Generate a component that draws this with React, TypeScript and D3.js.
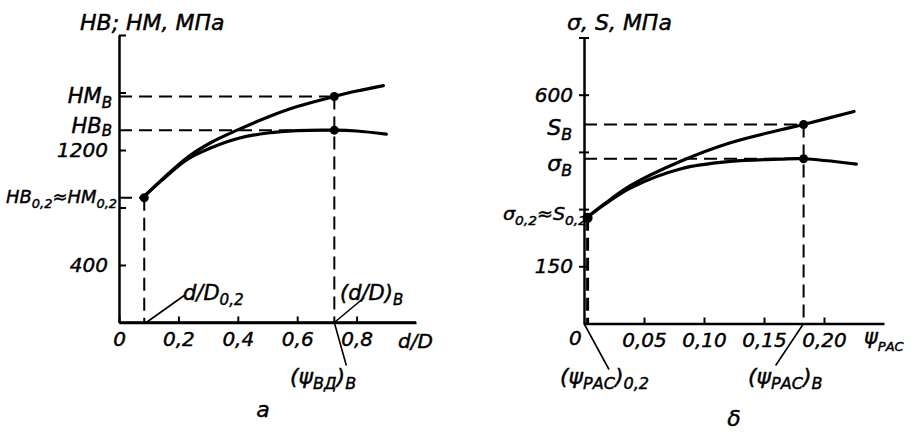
import React, { useEffect, useRef } from 'react';
import * as d3 from 'd3';

// panel a: hardness vs d/D
const hmX = [0.08, 0.14, 0.23, 0.31, 0.4, 0.5, 0.6, 0.725, 0.8, 0.89];
const hmValues = [868, 985, 1148, 1252, 1340, 1428, 1502, 1572, 1610, 1648];
const hbX = [0.08, 0.14, 0.23, 0.31, 0.4, 0.5, 0.6, 0.725, 0.8, 0.9];
const hbValues = [868, 982, 1135, 1215, 1280, 1318, 1335, 1338, 1332, 1310];
const aTicksX = [0, 0.2, 0.4, 0.6, 0.8];
const aTicksY = [400, 800, 1200, 1600, 2000];
const aLabeledY = [400, 1200];
const aX02 = 0.085;
const aV02 = 868;
const aXB = 0.725;
const aHMB = 1572;
const aHBB = 1338;

// panel b: stress vs psi
const sX = [0.002, 0.018, 0.039, 0.081, 0.122, 0.164, 0.183, 0.225];
const sValues = [277, 316, 362, 426, 474, 508, 522, 556];
const sigX = [0.002, 0.018, 0.039, 0.081, 0.122, 0.164, 0.183, 0.227];
const sigValues = [277, 314, 356, 406, 425, 431, 432, 418];
const bTicksX = [0.05, 0.1, 0.15, 0.2];
const bTicksY = [150, 300, 450, 600, 750];
const bLabeledY = [150, 600];
const bX02 = 0.003;
const bV02 = 277;
const bXB = 0.183;
const bSB = 522;
const bSigB = 432;

const FONT = '"DejaVu Sans", sans-serif';
const comma = (v: number, d: number) => (v === 0 ? '0' : v.toFixed(d).replace('.', ','));

const xa = d3.scaleLinear().domain([0, 1]).range([119, 416]);
const ya = d3.scaleLinear().domain([0, 2000]).range([322.5, 35]);
const xb = d3.scaleLinear().domain([0, 0.25]).range([584, 884]);
const yb = d3.scaleLinear().domain([0, 750]).range([323.5, 37.5]);

const Sub = ({ x, y, main, sub, anchor = 'end', size = 21 }: any) => (
  <text x={x} y={y} textAnchor={anchor} fontSize={size} fontStyle="italic" fontFamily={FONT}>
    {main}
    <tspan dy={5} fontSize={size * 0.72}>{sub}</tspan>
  </text>
);

export default function App() {
  const axRef = useRef<SVGGElement>(null);
  const ayRef = useRef<SVGGElement>(null);
  const bxRef = useRef<SVGGElement>(null);
  const byRef = useRef<SVGGElement>(null);

  useEffect(() => {
    const style = (g: any) => {
      g.select('.domain').attr('stroke-width', 2.5);
      g.selectAll('.tick line').attr('stroke-width', 2);
      g.selectAll('.tick text')
        .attr('font-family', FONT)
        .attr('font-style', 'italic')
        .attr('font-size', 20);
    };
    d3.select(axRef.current!)
      .call(
        d3.axisBottom(xa).tickValues(aTicksX).tickSizeInner(-6).tickSizeOuter(0).tickPadding(9)
          .tickFormat((d: any) => comma(d, 1))
      )
      .call(style);
    d3.select(ayRef.current!)
      .call(
        d3.axisLeft(ya).tickValues(aTicksY).tickSizeInner(-7).tickSizeOuter(0).tickPadding(11)
          .tickFormat((d: any) => (aLabeledY.includes(d) ? String(d) : ''))
      )
      .call(style);
    d3.select(bxRef.current!)
      .call(
        d3.axisBottom(xb).tickValues(bTicksX).tickSizeInner(-6).tickSizeOuter(0).tickPadding(9)
          .tickFormat((d: any) => comma(d, 2))
      )
      .call(style);
    const gy = d3.select(byRef.current!)
      .call(
        d3.axisLeft(yb).tickValues(bTicksY).tickSizeInner(5).tickSizeOuter(0).tickPadding(6)
          .tickFormat((d: any) => (bLabeledY.includes(d) ? String(d) : ''))
      )
      .call(style);
    gy.selectAll('.tick line').attr('x1', 5);
  }, []);

  const lineA = d3.line<number>().curve(d3.curveCatmullRom.alpha(0.5));
  const hmPath = lineA(hmX.map((x, i) => [xa(x), ya(hmValues[i])]) as any);
  const hbPath = lineA(hbX.map((x, i) => [xa(x), ya(hbValues[i])]) as any);
  const sPath = lineA(sX.map((x, i) => [xb(x), yb(sValues[i])]) as any);
  const sigPath = lineA(sigX.map((x, i) => [xb(x), yb(sigValues[i])]) as any);

  const dash = { stroke: '#000', strokeWidth: 2, strokeDasharray: '13 7', fill: 'none' };
  const curve = { stroke: '#000', strokeWidth: 3.2, fill: 'none', strokeLinecap: 'round' as const };
  const thin = { stroke: '#000', strokeWidth: 1.6 };
  const fit = 'spacingAndGlyphs';

  return (
    <svg width={914} height={433} style={{ position: 'absolute', left: 0, top: 0, background: '#fff' }}>
      <style>{'text{stroke:#000;stroke-width:0.45px}'}</style>
      {/* ---------- panel a ---------- */}
      <g transform={`translate(0,${ya(0)})`} ref={axRef} />
      <g transform={`translate(${xa(0)},0)`} ref={ayRef} />
      <line x1={xa(0)} x2={xa(1)} y1={ya(0)} y2={ya(0)} stroke="#000" strokeWidth={2.5} />

      <line x1={xa(0)} x2={xa(aXB)} y1={ya(aHMB)} y2={ya(aHMB)} {...dash} />
      <line x1={xa(0)} x2={xa(aXB)} y1={ya(aHBB)} y2={ya(aHBB)} {...dash} />
      <line x1={xa(0)} x2={xa(aX02)} y1={ya(aV02)} y2={ya(aV02)} {...dash} />
      <line x1={xa(aX02)} x2={xa(aX02)} y1={ya(aV02)} y2={ya(0)} {...dash} />
      <line x1={xa(aXB)} x2={xa(aXB)} y1={ya(aHMB)} y2={ya(0)} {...dash} />

      <path d={hmPath!} {...curve} />
      <path d={hbPath!} {...curve} />
      <circle cx={xa(aX02)} cy={ya(aV02)} r={4.5} />
      <circle cx={xa(aXB)} cy={ya(aHMB)} r={4.5} />
      <circle cx={xa(aXB)} cy={ya(aHBB)} r={4.5} />

      <text x={80} y={30} fontSize={22} fontStyle="italic" fontFamily={FONT}>HB; HM, МПа</text>
      <Sub x={112} y={ya(aHMB) + 6} main="HM" sub="В" />
      <text x={112} y={ya(aHBB) + 3} textAnchor="end" fontSize={21} fontStyle="italic" fontFamily={FONT}>
        HB<tspan dy={3} fontSize={15}>В</tspan>
      </text>
      <text x={6} y={ya(aV02) + 5} fontSize={18} fontStyle="italic" fontFamily={FONT} textLength={111} lengthAdjust={fit}>
        HB<tspan dy={5} fontSize={13}>0,2</tspan><tspan dy={-5}>≈HM</tspan><tspan dy={5} fontSize={13}>0,2</tspan>
      </text>
      <text x={398} y={ya(0) + 25} fontSize={20} fontStyle="italic" fontFamily={FONT}>d/D</text>

      <line x1={xa(aX02) + 2} y1={ya(0)} x2={xa(aX02) + 40} y2={ya(0) - 27} {...thin} />
      <Sub x={183} y={300} anchor="start" main="d/D" sub="0,2" />
      <line x1={xa(aXB)} y1={ya(0)} x2={xa(aXB) + 30} y2={ya(0) - 25} {...thin} />
      <text x={340} y={300} fontSize={21} fontStyle="italic" fontFamily={FONT}>
        (d/D)<tspan dy={5} fontSize={15}>В</tspan>
      </text>
      <line x1={xa(aXB)} y1={ya(0)} x2={xa(aXB) + 12} y2={ya(0) + 43} {...thin} />
      <text x={290} y={384} fontSize={22} fontStyle="italic" fontFamily={FONT}>
        (ψ<tspan dy={5} fontSize={16}>ВД</tspan><tspan dy={-5}>)</tspan><tspan dy={5} fontSize={16}>В</tspan>
      </text>
      <text x={263} y={417} fontSize={22} fontStyle="italic" fontFamily={FONT} textAnchor="middle">а</text>

      {/* ---------- panel b ---------- */}
      <g transform={`translate(0,${yb(0)})`} ref={bxRef} />
      <g transform={`translate(${xb(0)},0)`} ref={byRef} />

      <line x1={xb(0)} x2={xb(bXB)} y1={yb(bSB)} y2={yb(bSB)} {...dash} />
      <line x1={xb(0)} x2={xb(bXB)} y1={yb(bSigB)} y2={yb(bSigB)} {...dash} />
      <line x1={xb(bXB)} x2={xb(bXB)} y1={yb(bSB)} y2={yb(0)} {...dash} />
      <line x1={xb(bX02)} x2={xb(bX02)} y1={yb(bV02)} y2={yb(0)} {...dash} strokeWidth={3} />

      <path d={sPath!} {...curve} />
      <path d={sigPath!} {...curve} />
      <circle cx={xb(bX02)} cy={yb(bV02)} r={5} />
      <circle cx={xb(bXB)} cy={yb(bSB)} r={4.5} />
      <circle cx={xb(bXB)} cy={yb(bSigB)} r={4.5} />

      <text x={567} y={30} fontSize={22} fontStyle="italic" fontFamily={FONT}>σ, S, МПа</text>
      <Sub x={572} y={yb(bSB) + 11} main="S" sub="В" size={22} />
      <Sub x={572} y={yb(bSigB) + 12} main="σ" sub="В" size={22} />
      <text x={503} y={yb(bV02) + 2} fontSize={18} fontStyle="italic" fontFamily={FONT} textLength={84} lengthAdjust={fit}>
        σ<tspan dy={5} fontSize={13}>0,2</tspan><tspan dy={-5}>≈S</tspan><tspan dy={5} fontSize={13}>0,2</tspan>
      </text>
      <text x={569} y={yb(0) + 21} fontSize={20} fontStyle="italic" fontFamily={FONT}>0</text>
      <text x={864} y={yb(0) + 20} fontSize={21} fontStyle="italic" fontFamily={FONT}>
        ψ<tspan dy={7} fontSize={13}>РАС</tspan>
      </text>

      <line x1={xb(0)} y1={yb(0)} x2={xb(0) + 25} y2={yb(0) + 46} {...thin} />
      <text x={560} y={384} fontSize={22} fontStyle="italic" fontFamily={FONT}>
        (ψ<tspan dy={5} fontSize={16}>РАС</tspan><tspan dy={-5}>)</tspan><tspan dy={5} fontSize={16}>0,2</tspan>
      </text>
      <line x1={xb(bXB)} y1={yb(0)} x2={xb(bXB) - 28} y2={yb(0) + 42} {...thin} />
      <text x={748} y={384} fontSize={22} fontStyle="italic" fontFamily={FONT}>
        (ψ<tspan dy={5} fontSize={16}>РАС</tspan><tspan dy={-5}>)</tspan><tspan dy={5} fontSize={16}>В</tspan>
      </text>
      <text x={734} y={426} fontSize={22} fontStyle="italic" fontFamily={FONT} textAnchor="middle">δ</text>
    </svg>
  );
}
